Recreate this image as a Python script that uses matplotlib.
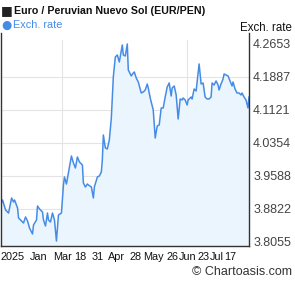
import matplotlib
matplotlib.use("Agg")
import matplotlib.pyplot as plt

# DATA (EUR/PEN)
day_idx = [0, 2, 5, 8, 11, 13, 14, 17, 18, 22, 23, 25, 27, 29, 32, 33, 36, 37, 39, 42,
           43, 45, 47, 48, 50, 52, 54, 56, 58, 61, 63, 64, 66, 68, 71, 73, 75, 77, 79, 82,
           83, 85, 87, 88, 91, 93, 94, 97, 99, 101, 102, 103, 105, 107, 109, 111, 113, 115, 117, 119,
           122, 123, 125, 127, 128, 131, 133, 134, 136, 138, 141, 143, 145, 147, 148, 150, 153, 155, 157, 159,
           161, 163, 165, 167, 169, 171, 172, 174, 176, 178, 180, 182, 183, 185, 187, 188, 191, 192, 194, 196,
           197, 199, 201, 203, 205, 207, 209, 211, 212, 214, 216, 218, 219, 221, 223, 224, 226, 228, 230, 232,
           233, 235, 237, 239, 241, 242, 244, 246, 248, 249]
rates = [3.8914, 3.9030, 3.8798, 3.8728, 3.9077, 3.8984, 3.9030, 3.8845, 3.8612, 3.8519,
         3.8496, 3.8636, 3.8543, 3.8380, 3.8241, 3.8450, 3.8566, 3.8891, 3.8821, 3.8752,
         3.8566, 3.8427, 3.8728, 3.8566, 3.8519, 3.8728, 3.8566, 3.8078, 3.8682, 3.8728,
         3.9379, 3.9564, 3.9402, 3.9657, 4.0052, 3.9890, 3.9773, 4.0029, 3.9913, 3.9843,
         3.9425, 3.9332, 3.9402, 3.9379, 3.9332, 3.9077, 3.9332, 3.9564, 3.9588, 3.9681,
         3.9959, 4.0540, 4.0238, 4.0215, 4.0424, 4.0935, 4.1887, 4.2351, 4.2398, 4.2235,
         4.2630, 4.2398, 4.2374, 4.2653, 4.2049, 4.1910, 4.1980, 4.2003, 4.1863, 4.1771,
         4.1515, 4.1538, 4.1585, 4.1724, 4.1631, 4.1399, 4.1120, 4.0470, 4.0749, 4.0772,
         4.1167, 4.1167, 4.1422, 4.1654, 4.1747, 4.1445, 4.1631, 4.1678, 4.1469, 4.0911,
         4.1376, 4.1353, 4.1399, 4.1353, 4.1236, 4.1353, 4.1422, 4.1376, 4.1608, 4.1562,
         4.1771, 4.2189, 4.1724, 4.1747, 4.1422, 4.1376, 4.1376, 4.1422, 4.1747, 4.1701,
         4.1794, 4.1701, 4.1585, 4.1724, 4.1840, 4.1956, 4.1933, 4.1910, 4.1794, 4.1678,
         4.1771, 4.1608, 4.1515, 4.1515, 4.1469, 4.1515, 4.1422, 4.1353, 4.1167, 4.1422]

y_ticks = [3.8055, 3.8822, 3.9588, 4.0354, 4.1121, 4.1887, 4.2653]
# bottom labels, one word each, left-aligned
x_tick_pos = [0, 29, 53, 74, 91, 108, 129, 143, 166, 179, 197, 210, 224]
x_tick_labels = ["2025", "Jan", "Mar", "18", "31", "Apr", "28", "May", "26",
                 "Jun", "23", "Jul", "17"]
v_grid = [62, 187]

LINE = "#468ce6"
FILL = "#ebf5fe"
W, H = 295, 288


def main():
    plt.rcParams["font.family"] = ["Liberation Sans", "DejaVu Sans"]
    fig = plt.figure(figsize=(W / 100, H / 100), dpi=100)
    ax = fig.add_axes([0.002, 1 - 246 / H, 249 / W - 0.002, (246 - 33) / H])

    ymin, ymax = 3.7962, 4.2908
    ax.set_xlim(0, 249)
    ax.set_ylim(ymin, ymax)

    # grid (under the fill)
    for yt in y_ticks[1:-1]:
        ax.axhline(yt, color="#e4e4e4", lw=0.8, zorder=0)
    for xv in v_grid:
        ax.axvline(xv, ymax=0.967, color="#e4e4e4", lw=0.8, zorder=0)

    ax.fill_between(day_idx, rates, ymin, color=FILL, lw=0, zorder=1)
    ax.plot(day_idx, rates, color=LINE, lw=1.1, zorder=2)

    ax.yaxis.tick_right()
    ax.set_yticks(y_ticks)
    ax.set_yticklabels([f"{v:.4f}" for v in y_ticks], fontsize=9, color="#444444")
    ax.set_xticks(x_tick_pos)
    ax.set_xticklabels(x_tick_labels, fontsize=7.8, color="#111111", ha="left")
    ax.tick_params(length=0, pad=3)
    ax.tick_params(axis="x", pad=4)

    for side in ["left", "bottom", "right"]:
        ax.spines[side].set_color("#333333")
        ax.spines[side].set_linewidth(1.0)
    ax.spines["top"].set_visible(False)

    # header
    fig.text(1 / W, 1 - 11 / H, "\u25a0", fontsize=9, color="#222222", va="center",
             family=["DejaVu Sans"])
    fig.text(14 / W, 1 - 11 / H, "Euro / Peruvian Nuevo Sol (EUR/PEN)", fontsize=7.7,
             fontweight="bold", color="#111111", va="center")
    fig.text(1 / W, 1 - 25 / H, "\u25cf", fontsize=8.5, color=LINE, va="center",
             family=["DejaVu Sans"])
    fig.text(13 / W, 1 - 25 / H, "Exch. rate", fontsize=7.8, color=LINE, va="center")
    fig.text(292 / W, 1 - 28 / H, "Exch. rate", fontsize=8.3, color="#111111",
             va="center", ha="right")
    fig.text(292 / W, 1 - 272 / H, "\u00a9 Chartoasis.com", fontsize=9, color="#333333",
             va="center", ha="right")

    fig.savefig("out.png", dpi=100)


if __name__ == "__main__":
    main()
